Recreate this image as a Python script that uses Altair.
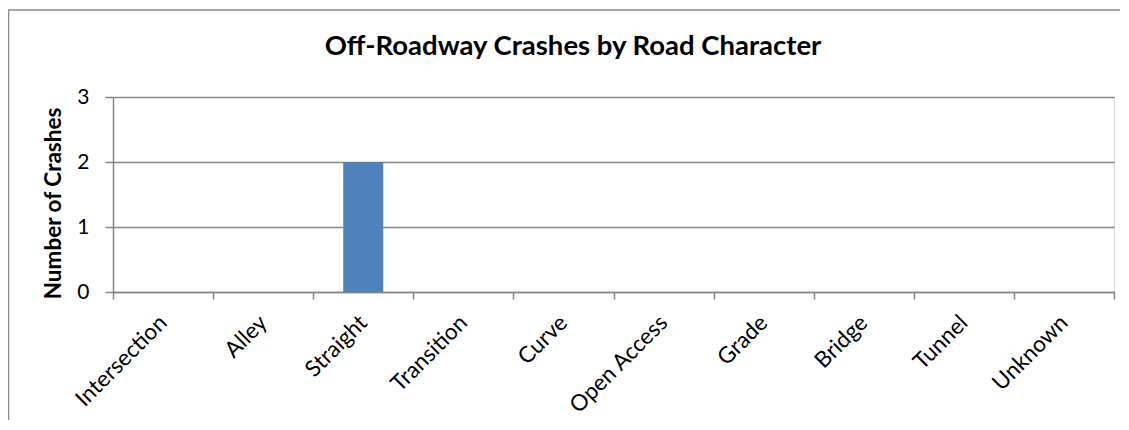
import altair as alt
import pandas as pd

categories = ["Intersection", "Alley", "Straight", "Transition", "Curve",
              "Open Access", "Grade", "Bridge", "Tunnel", "Unknown"]
crashes = [0, 0, 2, 0, 0, 0, 0, 0, 0, 0]
y_ticks = [0, 1, 2, 3]
title_text = ["Off-Roadway Crashes by Road Character"]
y_title = "Number of Crashes"

df = pd.DataFrame({"category": categories, "crashes": crashes})
one = pd.DataFrame({"a": [0]})
tdf = pd.DataFrame({"t": title_text})

W, H = 1001, 195
GRAY = "#868686"
FONT = "Lato"

bars = alt.Chart(df).mark_bar(color="#4F81BD", width=alt.RelativeBandSize(0.4)).encode(
    x=alt.X("category:N", sort=categories,
            scale=alt.Scale(paddingInner=0, paddingOuter=0),
            axis=alt.Axis(title=None, labelAngle=-45, tickBand="extent",
                          grid=False, domainColor=GRAY, domainWidth=1.5,
                          tickColor=GRAY, tickWidth=1.5, tickSize=7,
                          labelFont=FONT, labelFontSize=22.5, labelColor="black",
                          labelPadding=12, labelOffset=-8)),
    y=alt.Y("crashes:Q", scale=alt.Scale(domain=[0, 3], nice=False),
            axis=alt.Axis(values=y_ticks, title=y_title, format="d",
                          grid=True, gridColor=GRAY, gridWidth=1.5,
                          domainColor=GRAY, domainWidth=1.5,
                          tickColor=GRAY, tickWidth=1.5, tickSize=8,
                          labelFont=FONT, labelFontSize=21, labelColor="black",
                          labelPadding=16,
                          titleFont=FONT, titleFontSize=22.5, titleFontWeight="bold",
                          titleColor="black", titlePadding=11, titleY=106))
)

title = alt.Chart(tdf).mark_text(font=FONT, fontSize=27.5, fontWeight="bold",
                                  color="black", align="center",
                                  baseline="alphabetic").encode(
    x=alt.value(460), y=alt.value(-42), text="t:N")

# chart frame (top and left edges visible in the reference)
frame_top = alt.Chart(one).mark_rule(color="#8a8a8a", strokeWidth=1.5).encode(
    x=alt.value(-105), x2=alt.value(W + 20), y=alt.value(-87))
frame_left = alt.Chart(one).mark_rule(color="#8a8a8a", strokeWidth=1.5).encode(
    x=alt.value(-104.5), y=alt.value(-87), y2=alt.value(H + 140))

chart = alt.layer(frame_top, frame_left, title, bars).properties(
    width=W, height=H,
    padding={"left": 105, "top": 89, "right": 6, "bottom": 128},
    autosize=alt.AutoSizeParams(type="none"),
).configure_view(stroke=None).configure(background="white")

chart.save("out.html", embed_options={"renderer": "svg", "actions": False})
